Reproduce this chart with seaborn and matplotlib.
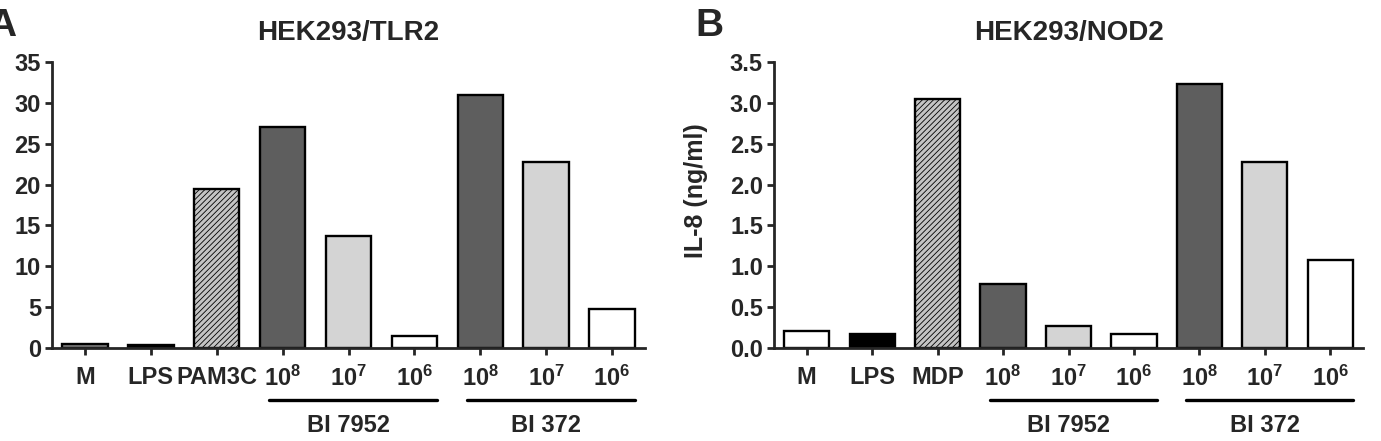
import numpy as np
import matplotlib
matplotlib.use("Agg")
import matplotlib.pyplot as plt
import matplotlib.transforms as mtransforms
import seaborn as sns

## Dados
grupos = ['M', 'LPS', 'CTRL', 'BI7952_8', 'BI7952_7', 'BI7952_6', 'BI372_8', 'BI372_7', 'BI372_6']
rotulos_tlr2 = ['M', 'LPS', 'PAM3C', '$10^{8}$', '$10^{7}$', '$10^{6}$', '$10^{8}$', '$10^{7}$', '$10^{6}$']
rotulos_nod2 = ['M', 'LPS', 'MDP', '$10^{8}$', '$10^{7}$', '$10^{6}$', '$10^{8}$', '$10^{7}$', '$10^{6}$']
il8_tlr2 = [0.5, 0.4, 19.5, 27.0, 13.7, 1.5, 31.0, 22.8, 4.8]
il8_nod2 = [0.21, 0.17, 3.05, 0.78, 0.27, 0.17, 3.23, 2.28, 1.08]
cores_tlr2 = ['#808080', '#000000', '#c4c4c4', '#5e5e5e', '#d4d4d4', '#ffffff', '#5e5e5e', '#d4d4d4', '#ffffff']
cores_nod2 = ['#ffffff', '#000000', '#c4c4c4', '#5e5e5e', '#d4d4d4', '#ffffff', '#5e5e5e', '#d4d4d4', '#ffffff']
cepas = ['BI 7952', 'BI 372']

sns.set_style('ticks')
plt.rcParams['font.family'] = ['Liberation Sans', 'DejaVu Sans']
plt.rcParams['font.weight'] = 'bold'
plt.rcParams['axes.labelweight'] = 'bold'
plt.rcParams['axes.titleweight'] = 'bold'
plt.rcParams['mathtext.fontset'] = 'custom'
plt.rcParams['mathtext.rm'] = 'Liberation Sans:bold'
plt.rcParams['mathtext.bf'] = 'Liberation Sans:bold'
plt.rcParams['mathtext.default'] = 'bf'
plt.rcParams['hatch.linewidth'] = 0.6

fig = plt.figure(figsize=(13.81, 4.41), dpi=100)
ax_a = fig.add_axes([52 / 1381, 93 / 441, 593 / 1381, 286 / 441])
ax_b = fig.add_axes([774 / 1381, 93 / 441, 589 / 1381, 286 / 441])


def painel(ax, valores, cores, rotulos, titulo, ymax, passo, fmt, ylabel_x):
    sns.barplot(x=grupos, y=valores, hue=grupos, palette=cores, legend=False,
                edgecolor='black', linewidth=1.7, width=0.69, saturation=1, ax=ax)
    ax.patches[2].set_hatch('//////')
    ax.set_xlim(-0.5, 8.5)
    ax.set_ylim(0, ymax)
    ax.set_yticks(np.arange(0, ymax + passo / 2, passo))
    ax.yaxis.set_major_formatter(matplotlib.ticker.FormatStrFormatter(fmt))
    ax.set_xticks(range(len(grupos)))
    ax.set_xticklabels(rotulos)
    ax.tick_params(axis='both', labelsize=17, width=2, length=5, pad=3)
    ax.tick_params(axis='x', pad=8)
    for s in ['left', 'bottom']:
        ax.spines[s].set_linewidth(2)
    sns.despine(ax=ax)
    ax.set_title(titulo, fontsize=20, pad=16)
    ax.set_ylabel('IL-8 (ng/ml)', fontsize=18)
    ax.yaxis.set_label_coords(ylabel_x, 0.55)

    ## linhas e nomes das cepas abaixo dos rótulos
    trans = mtransforms.blended_transform_factory(ax.transData, ax.transAxes)
    for (ini, fim), nome in zip([(3, 5), (6, 8)], cepas):
        ax.plot([ini - 0.2, fim + 0.35], [-0.182, -0.182], color='black', lw=2.4,
                transform=trans, clip_on=False)
        ax.text((ini + fim) / 2, -0.27, nome, transform=trans, ha='center', va='center',
                fontsize=17, fontweight='bold')


painel(ax_a, il8_tlr2, cores_tlr2, rotulos_tlr2, 'HEK293/TLR2', 35, 5, '%d', -0.095)
painel(ax_b, il8_nod2, cores_nod2, rotulos_nod2, 'HEK293/NOD2', 3.5, 0.5, '%.1f', -0.112)

fig.text(-0.009, 0.94, 'A', fontsize=28, fontweight='bold', va='center', ha='left')
fig.text(695 / 1381, 0.94, 'B', fontsize=28, fontweight='bold', va='center', ha='left')

fig.savefig('out.png', dpi=100)
